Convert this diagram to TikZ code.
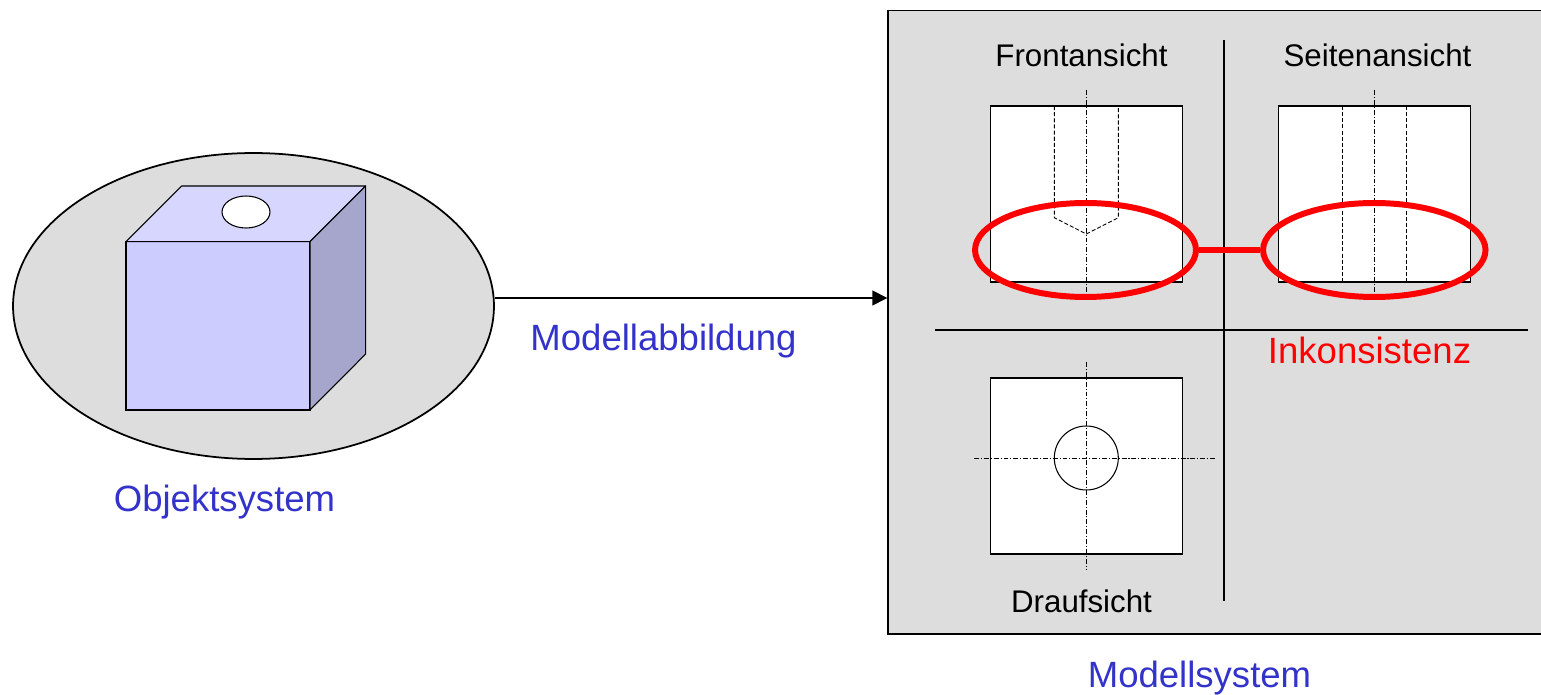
\documentclass[tikz,border=0pt]{standalone}
\usepackage{fontspec}
\setmainfont{Liberation Sans}
\usetikzlibrary{shapes.geometric,arrows.meta}
\definecolor{panelgray}{HTML}{DDDDDD}
\definecolor{labelblue}{HTML}{3333CC}
\definecolor{cubefront}{HTML}{CCCCFF}
\definecolor{cubetop}{HTML}{D6D6FF}
\definecolor{cubeside}{HTML}{A6A6CC}
\begin{document}
\begin{tikzpicture}[x=0.02cm,y=-0.02cm,
  bluelabel/.style={text=labelblue, font=\fontsize{20.8}{24}\selectfont, anchor=base, inner sep=0},
  viewlabel/.style={text=black, font=\fontsize{17.8}{21}\selectfont, anchor=base, inner sep=0},
  viewbox/.style={draw=black, fill=white, line width=0.6pt},
  hidden/.style={line width=0.5pt, dash pattern=on 2.3pt off 1.2pt},
  axisline/.style={line width=0.5pt, dash pattern=on 2.8pt off 1.1pt on 0.6pt off 1.1pt},
  ring/.style={ellipse, draw=red, line width=3.4pt, minimum width=4.42cm, minimum height=1.88cm, inner sep=0},
]
\clip (0,0) rectangle (1541,695);
\fill[white] (0,0) rectangle (1541,695);

% object system: grey ellipse with the cube
\node[ellipse, draw, fill=panelgray, line width=1pt, minimum width=9.62cm, minimum height=6.12cm, inner sep=0] (obj) at (253.5,306) {};
\filldraw[fill=cubefront, line width=0.6pt] (126,241.7) rectangle (310,410);
\filldraw[fill=cubetop, line width=0.6pt, line join=round] (126,241.7) -- (181.7,186) -- (365.7,186) -- (310,241.7) -- cycle;
\filldraw[fill=cubeside, line width=0.6pt, line join=round] (310,241.7) -- (365.7,186) -- (365.7,354) -- (310,410) -- cycle;
\filldraw[fill=white, line width=0.6pt] (246,212) ellipse[x radius=24, y radius=16];
\node[bluelabel] (lblObj) at (224.5,511) {Objektsystem};

% model system panel
\node[rectangle, draw, fill=panelgray, line width=0.9pt, minimum width=13.16cm, minimum height=12.47cm, inner sep=0] (model) at (1217,322.25) {};
\node[bluelabel] (lblModel) at (1199.5,687) {Modellsystem};

% mapping arrow
\draw[line width=0.9pt, -{Triangle[length=8.5pt, width=8.5pt]}] ([yshift=0.16cm]obj.east) -- ([yshift=0.16cm]obj.east -| model.west);
\node[bluelabel] (lblMap) at (663.5,351) {Modellabbildung};

% dividers between the views
\draw[line width=0.6pt] (1224,40) -- (1224,601);
\draw[line width=0.6pt] (935,330) -- (1528,330);

% front view
\node[viewlabel] (lblFront) at (1081.5,67) {Frontansicht};
\draw[viewbox] (990.3,106) rectangle (1182.3,282);
\draw[hidden] (1054.3,106) -- (1054.3,217.7) -- (1086.3,234) -- (1118.3,217.7) -- (1118.3,106);
\draw[axisline] (1086.3,90) -- (1086.3,293);

% side view
\node[viewlabel] (lblSide) at (1377.5,67) {Seitenansicht};
\draw[viewbox] (1278.3,106) rectangle (1470.3,282);
\draw[hidden] (1342.3,106) -- (1342.3,282);
\draw[hidden] (1406.3,106) -- (1406.3,282);
\draw[axisline] (1374.3,90) -- (1374.3,293);

% top view
\draw[viewbox] (990.3,378) rectangle (1182.3,554);
\draw[line width=0.6pt] (1086.3,458) circle[radius=32];
\draw[axisline] (974,458) -- (1215,458);
\draw[axisline] (1086.3,362) -- (1086.3,570);
\node[viewlabel] (lblTop) at (1081.5,612) {Draufsicht};

% inconsistency markers
\node[ring] (ringFront) at (1085.5,250) {};
\node[ring, minimum width=4.45cm] (ringSide) at (1374.3,250) {};
\draw[red, line width=3.4pt] (ringFront.east) -- (ringSide.west);
\node[bluelabel, text=red] (lblInc) at (1369.5,364) {Inkonsistenz};
\end{tikzpicture}
\end{document}
